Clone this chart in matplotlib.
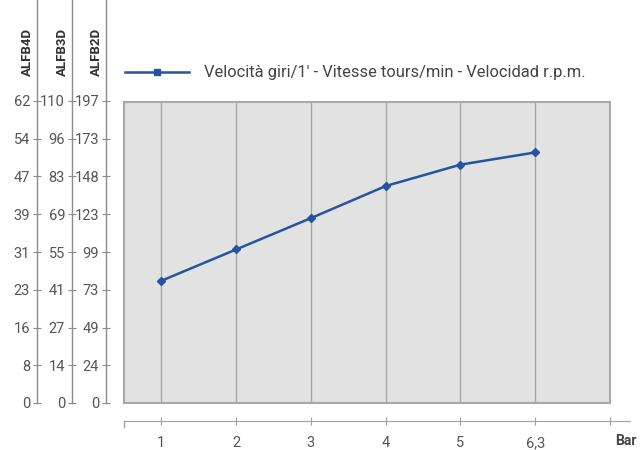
import matplotlib.pyplot as plt
from matplotlib.lines import Line2D

plt.rcParams['font.family'] = ['Roboto', 'DejaVu Sans']

categories = ['1', '2', '3', '4', '5', '6,3']
speed_alfb2d = [80, 100.5, 121, 142, 156, 164]

scale_names = ['ALFB4D', 'ALFB3D', 'ALFB2D']
labels_alfb4d = ['0', '8', '16', '23', '31', '39', '47', '54', '62']
labels_alfb3d = ['0', '14', '27', '41', '55', '69', '83', '96', '110']
labels_alfb2d = ['0', '24', '49', '73', '99', '123', '148', '173', '197']
legend_text = "Velocità giri/1' - Vitesse tours/min - Velocidad r.p.m."

W, H = 640, 450
fig = plt.figure(figsize=(W / 100, H / 100), dpi=100)

def px(x0, y_top, x1, y_bot):
    return [x0 / W, 1 - y_bot / H, (x1 - x0) / W, (y_bot - y_top) / H]

grey = '#8c8c8c'
txt = '#555555'
blue = '#24559e'
ymax = 197
ytop = ymax * 403 / 302

# main plot
ax = fig.add_axes(px(124, 102, 610, 403))
ax.set_facecolor('#e2e2e2')
xs = list(range(1, len(categories) + 1))
ax.plot(xs, speed_alfb2d, color=blue, lw=1.8, marker='D', ms=4)
ax.set_xlim(0.5, 7)
ax.set_ylim(0, ymax)
for x in xs:
    ax.axvline(x, color='#a5a5a5', lw=1, zorder=0)
ax.set_xticks([])
ax.set_yticks([])
for s in ax.spines.values():
    s.set_color('#a8a8a8')
    s.set_linewidth(1.5)

# three left scales
tick_pos = [ymax * i / 8 for i in range(9)]
scale_x = [37, 72, 106]
for name, labels, x in zip(scale_names, [labels_alfb4d, labels_alfb3d, labels_alfb2d], scale_x):
    sa = fig.add_axes(px(x, 0, x + 1, 403))
    sa.set_ylim(0, ytop)
    sa.set_xticks([])
    sa.patch.set_visible(False)
    for k in ['top', 'right', 'bottom']:
        sa.spines[k].set_visible(False)
    sa.spines['left'].set_color(grey)
    sa.spines['left'].set_linewidth(1)
    sa.set_yticks(tick_pos)
    sa.set_yticklabels(labels)
    sa.tick_params(axis='y', direction='inout', length=6, color=grey,
                   labelcolor=txt, labelsize=10.5, pad=2)
    fig.text((x - 10) / W, 1 - 52 / H, name, rotation=90, ha='center', va='center',
             fontsize=9.5, fontweight='bold', color='#333333')

# bottom axis
bx = fig.add_axes(px(124, 380, 610, 421))
bx.patch.set_visible(False)
bx.set_xlim(0.5, 7)
bx.set_yticks([])
for k in ['top', 'right', 'left']:
    bx.spines[k].set_visible(False)
bx.spines['bottom'].set_color('#a0a0a0')
bx.spines['bottom'].set_bounds(0.5, 7.27)
bx.set_xticks(xs + [7])
bx.set_xticklabels(categories + [''])
bx.tick_params(axis='x', direction='inout', length=6, color='#a0a0a0',
               labelcolor=txt, labelsize=10.5, pad=8)
bx.plot([0.5, 0.5], [0, -0.15], color='#a0a0a0', lw=1, clip_on=False)
bx.set_ylim(0, 1)
fig.text(626 / W, 1 - 441 / H, 'Bar', ha='center', va='center', fontsize=10,
         fontweight='bold', color='#444444')

# legend
handle = Line2D([], [], color=blue, lw=1.8, marker='s', ms=4)
fig.legend([handle], [legend_text], loc='center left',
           bbox_to_anchor=(110 / W, 1 - 73 / H), frameon=False,
           handlelength=3.9, handletextpad=0.9, fontsize=11.9, labelcolor='#444444')

plt.savefig('out.png', dpi=100)
